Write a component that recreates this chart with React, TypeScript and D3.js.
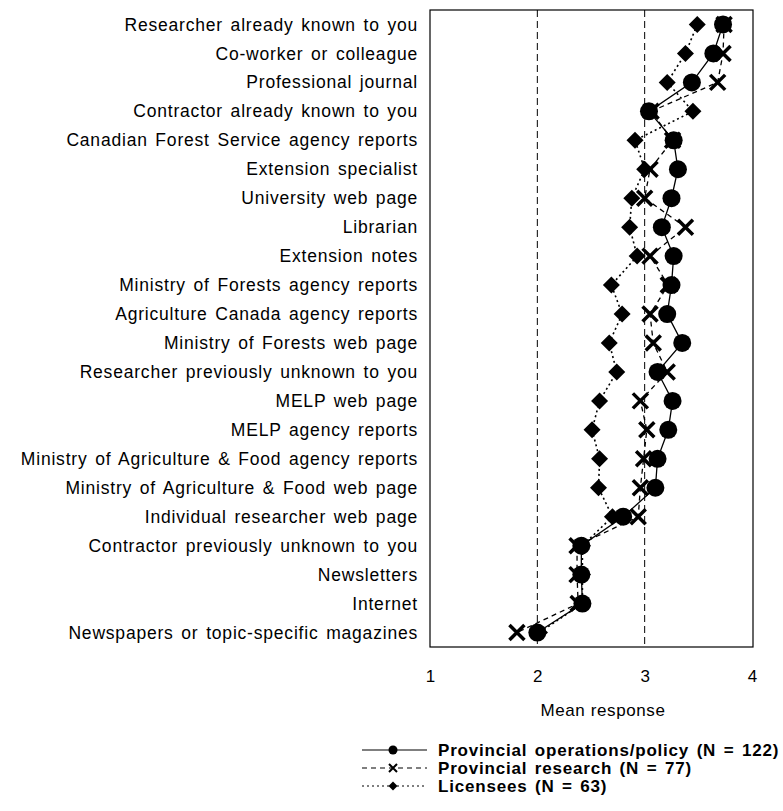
import * as d3 from "d3";
import { useEffect, useRef } from "react";

// categories, top to bottom
const categories = [
  "Researcher already known to you",
  "Co-worker or colleague",
  "Professional journal",
  "Contractor already known to you",
  "Canadian Forest Service agency reports",
  "Extension specialist",
  "University web page",
  "Librarian",
  "Extension notes",
  "Ministry of Forests agency reports",
  "Agriculture Canada agency reports",
  "Ministry of Forests web page",
  "Researcher previously unknown to you",
  "MELP web page",
  "MELP agency reports",
  "Ministry of Agriculture & Food agency reports",
  "Ministry of Agriculture & Food web page",
  "Individual researcher web page",
  "Contractor previously unknown to you",
  "Newsletters",
  "Internet",
  "Newspapers or topic-specific magazines",
];

const operations = [3.73, 3.64, 3.44, 3.04, 3.27, 3.31, 3.25, 3.16, 3.27, 3.25, 3.21, 3.35, 3.12, 3.26, 3.22, 3.12, 3.1, 2.8, 2.41, 2.41, 2.42, 2.0];
const research = [3.74, 3.73, 3.68, 3.06, 3.26, 3.05, 3.0, 3.38, 3.05, 3.22, 3.05, 3.08, 3.21, 2.96, 3.02, 2.99, 2.96, 2.94, 2.37, 2.37, 2.38, 1.81];
const licensees = [3.49, 3.38, 3.21, 3.45, 2.91, 3.0, 2.88, 2.86, 2.93, 2.69, 2.79, 2.67, 2.74, 2.58, 2.51, 2.58, 2.57, 2.7, 2.42, 2.42, 2.42, 2.02];

const xTicks = [1, 2, 3, 4];
const refLines = [2, 3];

const legendLabels = [
  "Provincial operations/policy (N = 122)",
  "Provincial research (N = 77)",
  "Licensees (N = 63)",
];

const W = 783;
const H = 811;
const FONT = "'Liberation Sans', Arial, sans-serif";

export default function App() {
  const ref = useRef<SVGSVGElement>(null);

  useEffect(() => {
    const svg = d3.select(ref.current);
    svg.selectAll("*").remove();

    const left = 430, right = 753, top = 10, bottom = 647;

    const x = d3.scaleLinear().domain([1, 4]).range([left, right - 1]);
    const y = d3.scalePoint<string>().domain(categories).range([top, bottom]).padding(0.5);

    // plot frame
    svg.append("rect")
      .attr("x", left).attr("y", top)
      .attr("width", right - left).attr("height", bottom - top)
      .attr("fill", "none").attr("stroke", "#000").attr("stroke-width", 1.2);

    // dashed reference lines
    svg.selectAll(".ref")
      .data(refLines)
      .enter()
      .append("line")
      .attr("x1", (d) => x(d)).attr("x2", (d) => x(d))
      .attr("y1", top).attr("y2", bottom)
      .attr("stroke", "#000").attr("stroke-width", 1)
      .attr("stroke-dasharray", "7,4");

    // x axis labels
    const xAxis = d3.axisBottom(x).tickValues(xTicks).tickSize(0).tickPadding(23).tickFormat(d3.format("d"));
    const gx = svg.append("g").attr("transform", `translate(0,${bottom})`).call(xAxis);
    gx.select(".domain").remove();
    gx.selectAll("text").attr("font-family", FONT).attr("font-size", 17).attr("fill", "#000");

    svg.append("text")
      .attr("x", (x(1) + x(4)) / 2 + 12).attr("y", 716)
      .attr("text-anchor", "middle")
      .attr("font-family", FONT).attr("font-size", 17).attr("letter-spacing", 0.6)
      .text("Mean response");

    // category labels
    const yAxis = d3.axisLeft(y).tickSize(0).tickPadding(12);
    const gy = svg.append("g").attr("transform", `translate(${left},0)`).call(yAxis);
    gy.select(".domain").remove();
    gy.selectAll("text")
      .attr("font-family", FONT).attr("font-size", 17.5)
      .attr("letter-spacing", 0.8).attr("word-spacing", 2)
      .attr("fill", "#000");

    const line = (vals: number[]) =>
      d3.line<number>().x((d) => x(d)).y((_, i) => y(categories[i])!)(vals);

    const diamond = (s: number) => `M0,${-s}L${s},0L0,${s}L${-s},0Z`;
    const cross = (s: number) => `M${-s},${-s}L${s},${s}M${-s},${s}L${s},${-s}`;

    // lines
    svg.append("path").attr("d", line(licensees)).attr("fill", "none")
      .attr("stroke", "#000").attr("stroke-width", 1.6).attr("stroke-dasharray", "2,3");
    svg.append("path").attr("d", line(research)).attr("fill", "none")
      .attr("stroke", "#000").attr("stroke-width", 1.3).attr("stroke-dasharray", "5,4");
    svg.append("path").attr("d", line(operations)).attr("fill", "none")
      .attr("stroke", "#000").attr("stroke-width", 1.3);

    // markers
    svg.selectAll(".dia").data(licensees).enter().append("path")
      .attr("transform", (d, i) => `translate(${x(d)},${y(categories[i])})`)
      .attr("d", diamond(8.5)).attr("fill", "#000");
    svg.selectAll(".crs").data(research).enter().append("path")
      .attr("transform", (d, i) => `translate(${x(d)},${y(categories[i])})`)
      .attr("d", cross(7.5)).attr("stroke", "#000").attr("stroke-width", 3.5).attr("fill", "none");
    svg.selectAll(".dot").data(operations).enter().append("circle")
      .attr("cx", (d) => x(d)).attr("cy", (_, i) => y(categories[i])!)
      .attr("r", 9).attr("fill", "#000");

    // legend
    const legY = [750, 768, 786];
    const dashes = [null, "5,4", "2,3"];
    const lg = svg.append("g");
    legendLabels.forEach((label, i) => {
      const g = lg.append("g").attr("transform", `translate(0,${legY[i]})`);
      g.append("line").attr("x1", 362).attr("x2", 427).attr("y1", 0).attr("y2", 0)
        .attr("stroke", "#000").attr("stroke-width", 1.2)
        .attr("stroke-dasharray", dashes[i]);
      if (i === 0) g.append("circle").attr("cx", 393).attr("cy", 0).attr("r", 4.5).attr("fill", "#000");
      if (i === 1) g.append("path").attr("transform", "translate(393,0)").attr("d", cross(4))
        .attr("stroke", "#000").attr("stroke-width", 2).attr("fill", "none");
      if (i === 2) g.append("path").attr("transform", "translate(393,0)").attr("d", diamond(4.5)).attr("fill", "#000");
      g.append("text").attr("x", 438).attr("y", 6)
        .attr("font-family", FONT).attr("font-size", 17).attr("font-weight", "bold")
        .attr("letter-spacing", 0.8).attr("word-spacing", 2)
        .text(label);
    });
  }, []);

  return (
    <div style={{ position: "absolute", left: 0, top: 0 }}>
      <svg ref={ref} width={W} height={H} style={{ display: "block", background: "#fff" }} />
    </div>
  );
}
